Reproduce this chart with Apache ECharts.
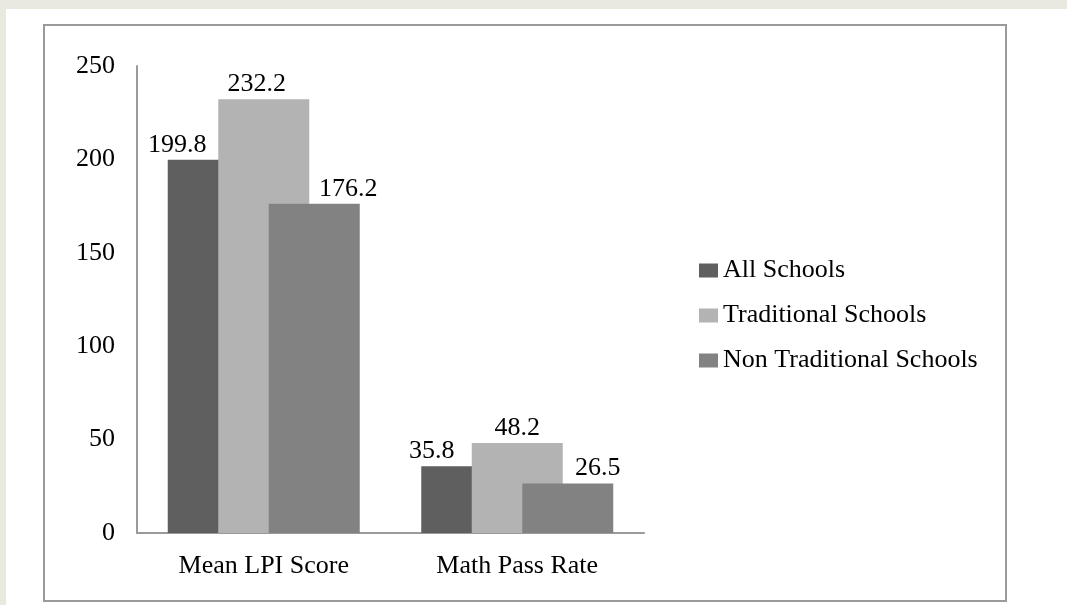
<!DOCTYPE html>
<html>
<head>
<meta charset="utf-8">
<script src="https://cdn.jsdelivr.net/npm/echarts@6/dist/echarts.min.js"></script>
<style>
html,body{margin:0;padding:0;background:#e9e9df;}
#c{width:1067px;height:605px;}
</style>
</head>
<body>
<div id="c"></div>
<script>
const categories = ['Mean LPI Score', 'Math Pass Rate'];
const seriesNames = ['All Schools', 'Traditional Schools', 'Non Traditional Schools'];
const allSchools = [199.8, 35.8];
const traditionalSchools = [232.2, 48.2];
const nonTraditionalSchools = [176.2, 26.5];
const yTicks = [0, 50, 100, 150, 200, 250];

const FONT = '"Liberation Serif", "Times New Roman", serif';
const FS = 26;
const colors = ['#5f5f5f', '#b3b3b3', '#828282'];
const labelOffsets = [[-36, -35], [-7, 0], [34, 30]];
const values = [allSchools, traditionalSchools, nonTraditionalSchools];

const chart = echarts.init(document.getElementById('c'), null, {renderer: 'canvas'});
chart.setOption({
  backgroundColor: '#e9e9df',
  animation: false,
  graphic: [
    {type: 'rect', z: -10, shape: {x: 6, y: 9, width: 1061, height: 596}, style: {fill: '#ffffff'}},
    {type: 'rect', z: -9, shape: {x: 44, y: 25, width: 962, height: 576}, style: {fill: '#ffffff', stroke: '#9a9a9a', lineWidth: 2}}
  ],
  grid: {left: 137, right: 423, top: 66, bottom: 72, containLabel: false},
  legend: {
    orient: 'vertical',
    left: 694,
    top: 252,
    itemWidth: 19,
    itemHeight: 14,
    itemGap: 18,
    itemTextGap: 2,
    icon: 'rect',
    data: seriesNames,
    textStyle: {fontFamily: FONT, fontSize: FS, color: '#000', lineHeight: 27}
  },
  xAxis: {
    type: 'category',
    data: categories,
    axisLine: {show: true, lineStyle: {color: '#9a9a9a', width: 2}},
    axisTick: {show: false},
    axisLabel: {fontFamily: FONT, fontSize: FS, color: '#000', margin: 20}
  },
  yAxis: {
    type: 'value',
    min: 0, max: 250, interval: 50,
    splitLine: {show: false},
    axisLine: {show: true, lineStyle: {color: '#9a9a9a', width: 2}},
    axisTick: {show: false},
    axisLabel: {fontFamily: FONT, fontSize: FS, color: '#000', margin: 22,
      formatter: v => yTicks.includes(v) ? String(v) : ''}
  },
  series: seriesNames.map((name, si) => ({
    name: name,
    type: 'bar',
    barWidth: 91,
    barGap: '-44.5%',
    itemStyle: {color: colors[si]},
    label: {show: true, position: 'top', distance: 2, fontFamily: FONT, fontSize: FS, color: '#000',
      formatter: p => p.value.toFixed(1)},
    data: values[si].map((v, i) => ({value: v, label: {offset: [labelOffsets[si][i], 0]}}))
  }))
});
</script>
</body>
</html>
